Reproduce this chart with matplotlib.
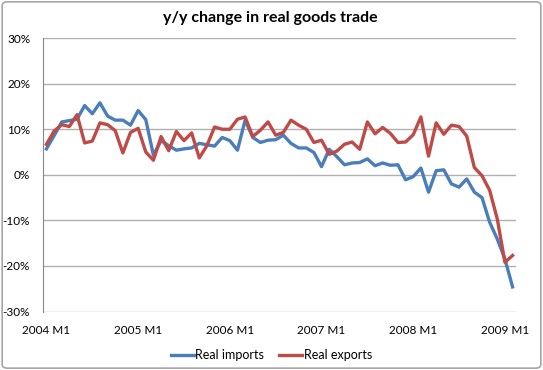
import matplotlib
matplotlib.use('Agg')
import matplotlib.pyplot as plt
from matplotlib.patches import FancyBboxPatch
from matplotlib.ticker import FuncFormatter
import numpy as np

# monthly y/y change, 2004 M1 .. 2009 M2 (percent)
real_imports = [5.7, 8.6, 11.6, 11.9, 12.2, 15.2, 13.4, 15.8, 12.9, 12.0, 12.0, 10.9,
                14.1, 12.1, 4.3, 7.5, 6.4, 5.4, 5.7, 5.9, 6.9, 6.6, 6.3, 8.2,
                7.5, 5.4, 12.0, 8.2, 7.1, 7.6, 7.7, 8.7, 6.9, 5.9, 5.9, 4.9,
                1.8, 5.6, 4.0, 2.2, 2.6, 2.7, 3.5, 2.0, 2.6, 2.1, 2.2, -1.1,
                -0.4, 1.5, -3.8, 0.9, 1.1, -2.0, -2.7, -0.9, -3.8, -5.0, -10.4, -14.1,
                -18.5, -24.6]
real_exports = [6.7, 9.6, 11.0, 10.6, 13.2, 7.0, 7.4, 11.4, 11.0, 9.7, 4.8, 9.3,
                10.2, 5.0, 3.2, 8.4, 5.3, 9.5, 7.5, 9.2, 3.7, 6.4, 10.5, 10.0,
                10.0, 12.2, 12.7, 8.4, 9.8, 11.6, 8.7, 9.3, 12.0, 10.9, 10.0, 7.1,
                7.6, 4.5, 5.2, 6.7, 7.2, 5.6, 11.6, 9.0, 10.4, 9.1, 7.1, 7.2,
                8.8, 12.7, 4.1, 11.4, 8.9, 10.9, 10.6, 8.5, 1.6, -0.2, -3.4, -9.7,
                -19.2, -17.7]
years = ['2004', '2005', '2006', '2007', '2008', '2009']
tick_labels = [y + ' M1' for y in years]

plt.rcParams['font.family'] = ['Lato', 'DejaVu Sans']

fig = plt.figure(figsize=(5.43, 3.70), dpi=100)
fig.patches.append(FancyBboxPatch((0.004, 0.005), 0.992, 0.99, boxstyle='round,pad=0,rounding_size=0.01',
                                  transform=fig.transFigure, facecolor='white',
                                  edgecolor='#a6a6a6', linewidth=1.2, zorder=-1))
ax = fig.add_axes([0.0785, 0.158, 0.8725, 0.739])
ax.set_facecolor('none')

x = np.arange(len(real_imports))
ax.plot(x, real_imports, color='#4a7ebb', lw=2.4, label='Real imports', solid_joinstyle='round')
ax.plot(x, real_exports, color='#be4b48', lw=2.4, label='Real exports', solid_joinstyle='round')

ax.set_xlim(-0.5, len(x) - 0.5)
ax.set_ylim(-30, 30)
ax.set_yticks(np.arange(-30, 31, 10))
ax.yaxis.set_major_formatter(FuncFormatter(lambda v, p: '%d%%' % v))
ax.set_xticks(np.arange(0, len(x), 12))
ax.set_xticklabels(tick_labels)
ax.grid(axis='y', color='#b0b0b0', lw=1)
ax.set_axisbelow(True)
for s in ['top', 'right', 'bottom']:
    ax.spines[s].set_visible(False)
ax.spines['left'].set_color('#868686')
ax.tick_params(axis='both', length=0, labelsize=8.5, colors='black')
ax.tick_params(axis='y', pad=9)
ax.tick_params(axis='x', pad=10)

fig.text(0.497, 0.952, 'y/y change in real goods trade', ha='center', va='center',
         fontsize=11.5, fontweight='bold')
fig.legend(loc='center', bbox_to_anchor=(0.5, 0.04), ncol=2, frameon=False,
           fontsize=9, handlelength=1.8, handletextpad=0.15, columnspacing=1.2)

fig.savefig('out.png', dpi=100)
